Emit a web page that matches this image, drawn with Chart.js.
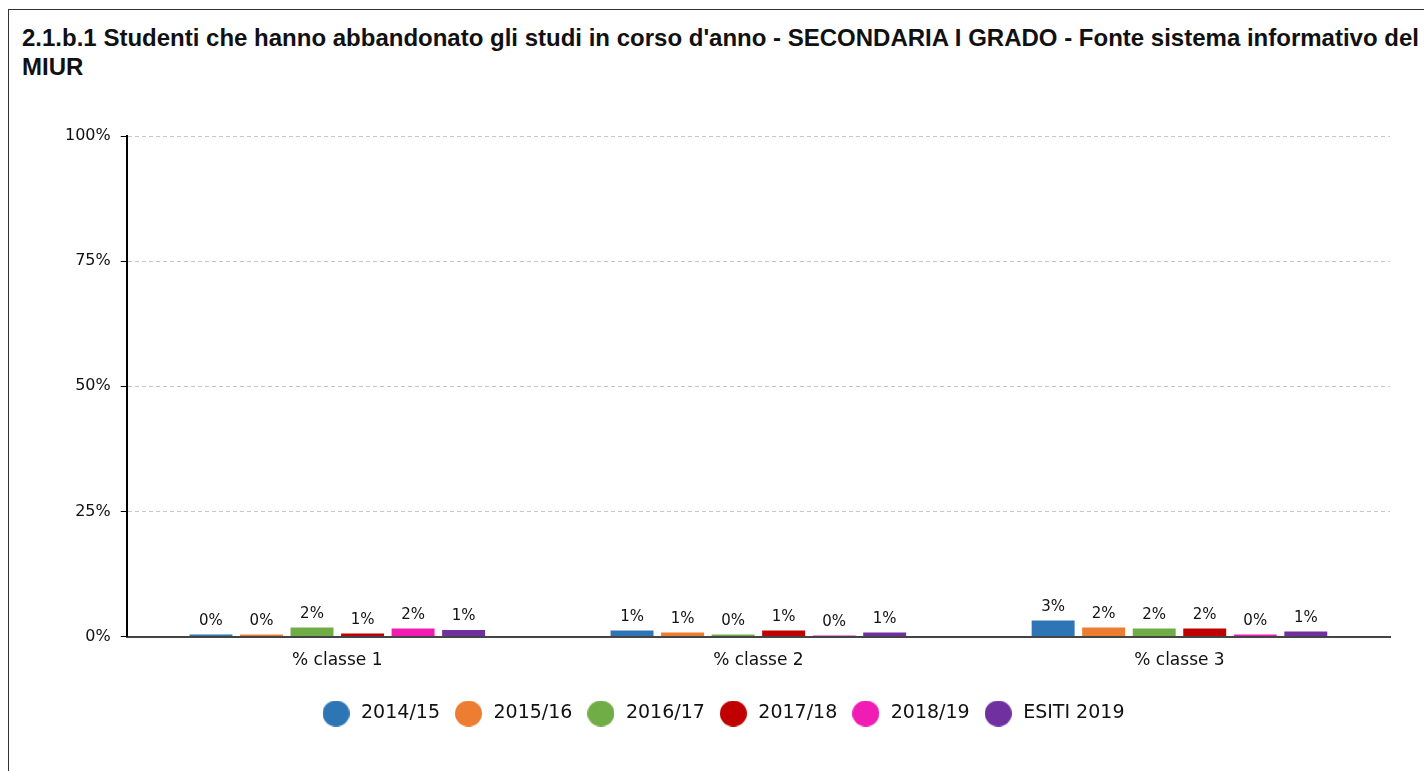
<!DOCTYPE html>
<html>
<head>
<meta charset="utf-8">
<script src="https://cdn.jsdelivr.net/npm/chart.js@4"></script>
<style>
  html, body { margin: 0; padding: 0; background: #fff; overflow: hidden; }
  #box {
    position: absolute; left: 8px; top: 9px; width: 1440px; height: 800px;
    border: 1px solid #333; box-sizing: border-box;
  }
  #title {
    position: absolute; left: 13px; top: 13px;
    font: bold 24px "Liberation Sans", Arial, sans-serif; line-height: 29px;
    color: #111; white-space: nowrap;
  }
  #wrap { position: absolute; left: 0px; top: 80px; width: 1415px; height: 681px; }
</style>
</head>
<body>
<div id="box">
  <div id="title">2.1.b.1 Studenti che hanno abbandonato gli studi in corso d'anno - SECONDARIA I GRADO - Fonte sistema informativo del<br>MIUR</div>
  <div id="wrap"><canvas id="chart"></canvas></div>
</div>
<script>
// ======= dati =======
const categorie = ['% classe 1', '% classe 2', '% classe 3']
const anni = ['2014/15', '2015/16', '2016/17', '2017/18', '2018/19', 'ESITI 2019']
const a2014 = [0.4, 1.2, 3.2]
const a2015 = [0.4, 0.8, 1.8]
const a2016 = [1.8, 0.4, 1.6]
const a2017 = [0.6, 1.2, 1.6]
const a2018 = [1.6, 0.2, 0.4]
const esiti2019 = [1.3, 0.8, 1.0]
const yTicks = [0, 25, 50, 75, 100]

const colori = ['#2e75b6', '#ed7d31', '#70ad47', '#c00000', '#f01cb4', '#7030a0']
const serie = [a2014, a2015, a2016, a2017, a2018, esiti2019]

// pallini della legenda
const dots = colori.map(c => {
  const cv = document.createElement('canvas')
  cv.width = 27; cv.height = 26
  const g = cv.getContext('2d')
  g.fillStyle = c
  g.beginPath()
  g.ellipse(13.5, 13, 13.5, 13, 0, 0, Math.PI * 2)
  g.fill()
  return cv
})

// etichette sopra le barre
const valoriSopra = {
  id: 'valoriSopra',
  afterDatasetsDraw (chart) {
    const ctx = chart.ctx
    ctx.save()
    ctx.font = '15px "DejaVu Sans"'
    ctx.fillStyle = '#111'
    ctx.textAlign = 'center'
    ctx.textBaseline = 'bottom'
    chart.data.datasets.forEach((ds, i) => {
      chart.getDatasetMeta(i).data.forEach((bar, j) => {
        ctx.fillText(Math.round(ds.data[j]) + '%', bar.x, bar.y - 6)
      })
    })
    ctx.restore()
  }
}

new Chart(document.getElementById('chart').getContext('2d'), {
  type: 'bar',
  data: {
    labels: categorie,
    datasets: anni.map((a, i) => ({
      label: a,
      data: serie[i],
      backgroundColor: colori[i],
      borderWidth: 0,
      categoryPercentage: 0.72,
      barPercentage: 0.85
    }))
  },
  options: {
    responsive: true,
    maintainAspectRatio: false,
    animation: false,
    layout: { padding: { left: 46, right: 34, top: 46, bottom: 38 } },
    plugins: {
      legend: {
        position: 'bottom',
        labels: {
          usePointStyle: true,
          pointStyleWidth: 31,
          padding: 13,
          color: '#111',
          font: { family: 'DejaVu Sans', size: 19 },
          generateLabels (chart) {
            const items = Chart.defaults.plugins.legend.labels.generateLabels(chart)
            items.forEach((it, i) => { it.pointStyle = dots[i] })
            return items
          }
        }
      },
      tooltip: { enabled: false }
    },
    scales: {
      x: {
        grid: { display: false },
        border: { display: true, color: '#444', width: 2 },
        ticks: { color: '#111', font: { family: 'DejaVu Sans', size: 17 }, padding: 6 },
        afterFit (axis) { axis.height += 14 }
      },
      y: {
        min: 0,
        max: 100,
        afterBuildTicks (axis) { axis.ticks = yTicks.map(v => ({ value: v })) },
        grid: { color: '#c8c8c8', tickColor: '#000', tickLength: 6 },
        border: { color: '#000', width: 2, dash: [4, 3] },
        ticks: {
          color: '#111',
          font: { family: 'DejaVu Sans', size: 16 },
          padding: 10,
          callback: v => v + '%'
        }
      }
    }
  },
  plugins: [valoriSopra]
})
</script>
</body>
</html>
